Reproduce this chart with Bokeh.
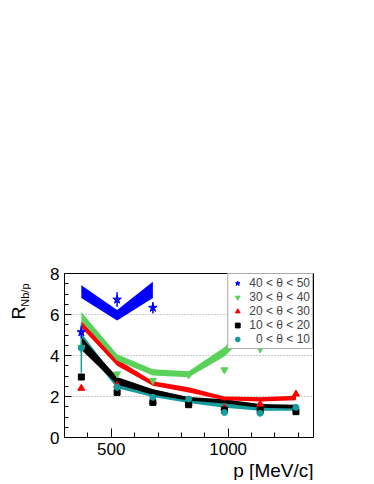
import numpy as np
from bokeh.plotting import figure
from bokeh.models import Range1d, Legend, LegendItem, FixedTicker, Title
from bokeh.embed import file_html
from bokeh.resources import INLINE

FONT = "Liberation Sans"

# momentum bin centres [MeV/c]
p_mom = [372, 525, 678, 831, 984, 1137, 1290]
nan = float("nan")

# model bands (lower / upper) per angular bin
band40_lo = [6.80, 5.71, 6.80]
band40_hi = [7.43, 6.22, 7.60]
band30_lo = [5.70, 3.75, 3.02, 2.94, 3.95, 5.65, 7.90]
band30_hi = [6.12, 4.06, 3.33, 3.23, 4.40, 6.25, 8.60]
band20_lo = [5.35, 3.50, 2.52, 2.20, 1.82, 1.76, 1.82]
band20_hi = [5.68, 3.82, 2.75, 2.45, 2.00, 1.96, 2.04]
band10_lo = [4.28, 2.58, 2.08, 1.80, 1.66, 1.45, 1.42]
band10_hi = [4.90, 2.95, 2.35, 1.98, 1.86, 1.63, 1.60]
band00_lo = [4.55, 2.40, 1.98, 1.68, 1.45, 1.30, 1.30]
band00_hi = [5.10, 2.80, 2.35, 1.95, 1.66, 1.50, 1.48]

# measured points and errors
pts40 = [5.14, 6.73, 6.33, nan, nan, nan, nan]
err40 = [0.30, 0.35, 0.28, nan, nan, nan, nan]
pts30 = [4.40, 3.10, 2.78, 3.05, 3.30, 4.33, nan]
err30 = [0.30, 0.10, 0.08, 0.08, 0.08, 0.20, nan]
pts20 = [2.40, 2.55, 1.76, 1.67, 1.44, 1.63, 2.12]
err20 = [0.10, 0.10, 0.06, 0.06, 0.05, 0.06, 0.08]
pts10 = [2.95, 2.20, 1.71, 1.60, 1.34, 1.31, 1.26]
err10 = [0.15, 0.08, 0.06, 0.05, 0.05, 0.05, 0.06]
pts00 = [4.36, 2.45, 1.96, 1.88, 1.22, 1.18, 1.47]
err00 = [1.20, 0.15, 0.12, 0.08, 0.06, 0.06, 0.08]

labels = ["40 < \u03b8 < 50", "30 < \u03b8 < 40", "20 < \u03b8 < 30",
          "10 < \u03b8 < 20", "\u20070 < \u03b8 < 10"]

c40, c30, c20, c10, c00 = "#0000ff", "#5ad25a", "#ff0000", "#000000", "#169c9c"

p = figure(frame_width=249, frame_height=164, output_backend="svg",
           toolbar_location=None, x_range=Range1d(300, 1365), y_range=Range1d(0, 8),
           min_border_left=63, min_border_top=273, min_border_right=54,
           min_border_bottom=40)
p.background_fill_color = "white"
p.border_fill_color = "white"
p.outline_line_color = "black"
p.outline_line_width = 1
p.xgrid.visible = False
p.ygrid.grid_line_color = "#999999"
p.ygrid.grid_line_dash = "1 2"

p.xaxis.ticker = FixedTicker(ticks=[500, 1000], minor_ticks=list(range(400, 1400, 100)))
p.yaxis.ticker = FixedTicker(ticks=[0, 2, 4, 6, 8], minor_ticks=[0.5 * i for i in range(17)])
for ax in (p.xaxis[0], p.yaxis[0]):
    ax.major_tick_out = 0
    ax.minor_tick_out = 0
    ax.axis_line_color = "black"
    ax.major_tick_line_color = "black"
    ax.minor_tick_line_color = "black"
    ax.major_label_text_font = FONT
    ax.major_label_text_font_size = "17px"
    ax.major_label_text_color = "black"
p.xaxis.major_tick_in = 9
p.xaxis.minor_tick_in = 5
p.yaxis.major_tick_in = 7
p.yaxis.minor_tick_in = 4
p.xaxis.major_label_standoff = 5
p.yaxis.major_label_standoff = 5

# bands
p.varea(x=p_mom, y1=band00_lo, y2=band00_hi, color=c00)
p.varea(x=p_mom, y1=band10_lo, y2=band10_hi, color=c10)
p.varea(x=p_mom, y1=band20_lo, y2=band20_hi, color=c20)
p.varea(x=p_mom, y1=band30_lo, y2=band30_hi, color=c30)
p.varea(x=p_mom[:3], y1=band40_lo, y2=band40_hi, color=c40)

def points(vals, errs, color, marker, size):
    v = np.array(vals, dtype=float)
    e = np.array(errs, dtype=float)
    p.segment(x0=p_mom, y0=v - e, x1=p_mom, y1=v + e, line_color=color, line_width=1.5)
    return p.scatter(x=p_mom, y=vals, marker=marker, size=size, color=color)

r30 = points(pts30, err30, c30, "inverted_triangle", 7)
r20 = points(pts20, err20, c20, "triangle", 7)
r10 = points(pts10, err10, c10, "square", 6)
r00 = points(pts00, err00, c00, "circle", 6)
r40 = points(pts40, err40, c40, "star", 9)

legend = Legend(items=[LegendItem(label=labels[0], renderers=[r40]),
                       LegendItem(label=labels[1], renderers=[r30]),
                       LegendItem(label=labels[2], renderers=[r20]),
                       LegendItem(label=labels[3], renderers=[r10]),
                       LegendItem(label=labels[4], renderers=[r00])],
                location="top_right", orientation="vertical",
                label_text_font=FONT, label_text_font_size="12px",
                label_height=12, glyph_height=12, glyph_width=14,
                label_standoff=5, padding=2, spacing=0, margin=0,
                border_line_color="#555555", border_line_width=1,
                background_fill_color="white", background_fill_alpha=1)
p.add_layout(legend, "center")

# axis titles
p.add_layout(Title(text="p [MeV/c]", align="right", text_font=FONT,
                   text_font_size="19px", text_font_style="normal",
                   text_color="black", standoff=0), "below")
p.add_layout(Title(text="Nb/p", align="right", offset=10, text_font=FONT,
                   text_font_size="11px", text_font_style="normal",
                   text_color="black", standoff=33), "left")
p.add_layout(Title(text="R", align="right", offset=33, text_font=FONT,
                   text_font_size="18px", text_font_style="normal",
                   text_color="black", standoff=-57), "left")

open("out.html", "w").write(file_html(p, INLINE))
